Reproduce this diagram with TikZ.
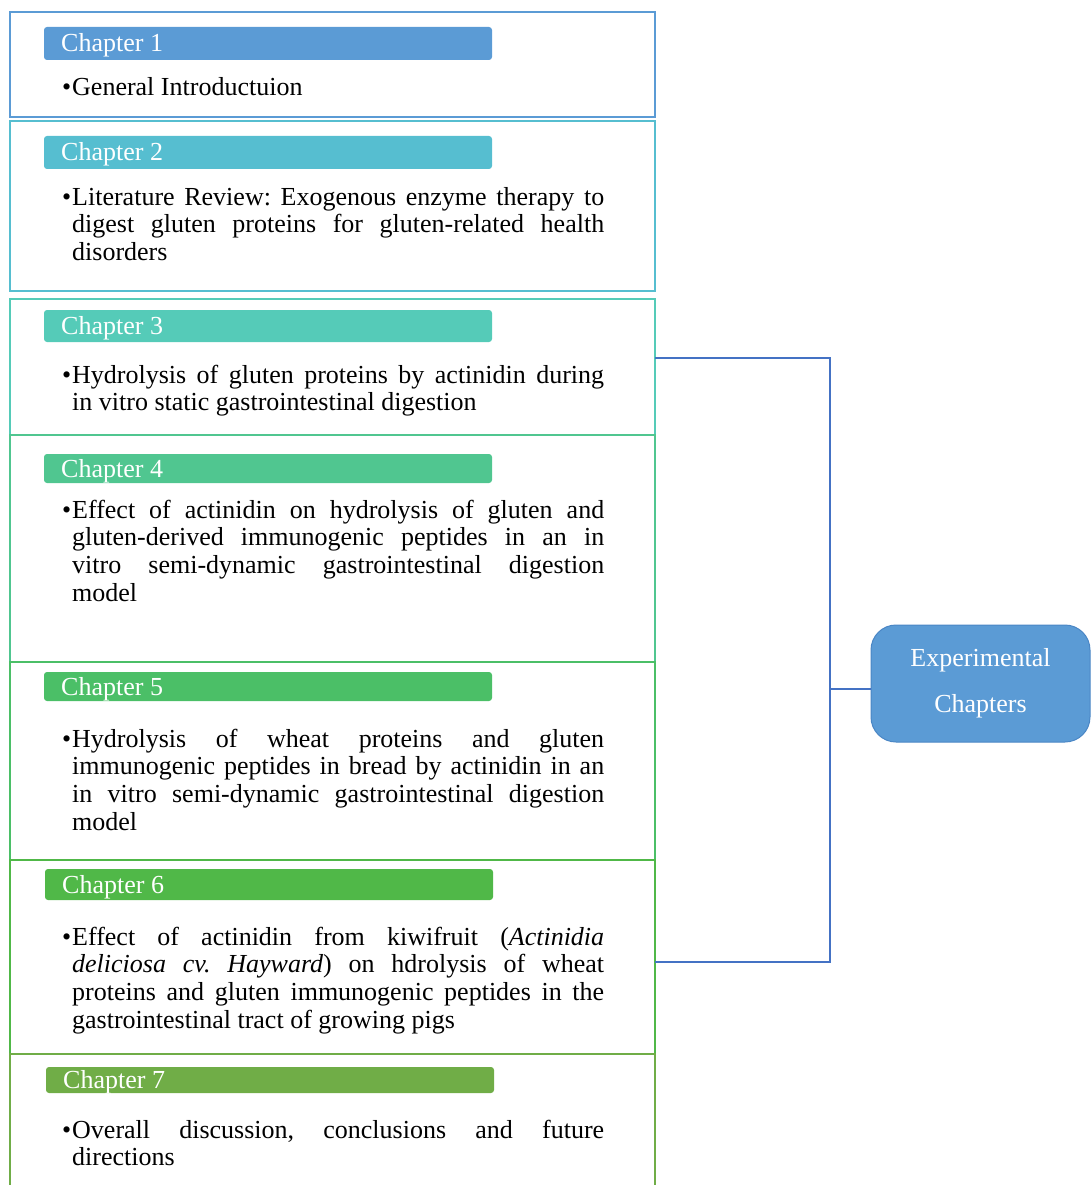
\documentclass[tikz,border=0pt]{standalone}
\usepackage{fontspec}
\setmainfont{Liberation Serif}
\hyphenpenalty=10000
\exhyphenpenalty=10000
\emergencystretch=20pt
\frenchspacing
\definecolor{c1}{HTML}{5B9BD5}
\definecolor{c2}{HTML}{56BED0}
\definecolor{c3}{HTML}{55CBB8}
\definecolor{c4}{HTML}{50C690}
\definecolor{c5}{HTML}{4BBF67}
\definecolor{c6}{HTML}{50B848}
\definecolor{c7}{HTML}{70AD47}
\definecolor{linkblue}{HTML}{4472C4}
\definecolor{expedge}{HTML}{4A86C5}
\tikzset{
  chbox/.style={draw, line width=2.7pt, minimum width=645pt, inner sep=0pt, outer sep=0pt, anchor=north west},
  chbar/.style={rounded corners=3pt, minimum width=448pt, inner sep=0pt, outer sep=0pt, anchor=north west},
  chtitle/.style={text=white, inner sep=0pt, anchor=base west, font=\fontsize{26}{28}\selectfont},
  chbody/.style={text width=532pt, inner sep=0pt, anchor=base west, align=justify,
    font=\fontsize{26}{27.7}\selectfont},
  link/.style={draw=linkblue, line width=1.4pt},
}
\newcommand{\chbullet}{\llap{\textbullet\kern1pt}}
\begin{document}
\begin{tikzpicture}[x=1pt, y=-1pt]
\useasboundingbox (0,0) rectangle (1091,1185);
\clip (0,0) rectangle (1091,1185);

% chapter frames
\node[chbox, draw=c1, minimum height=105pt] (b1) at (10,12) {};
\node[chbox, draw=c2, minimum height=170pt] (b2) at (10,121) {};
\node[chbox, draw=c3, minimum height=136pt] (b3) at (10,299) {};
\node[chbox, draw=c4, minimum height=227pt] (b4) at (10,435) {};
\node[chbox, draw=c5, minimum height=198pt] (b5) at (10,662) {};
\node[chbox, draw=c6, minimum height=194pt] (b6) at (10,860) {};
\node[chbox, draw=c7, minimum height=160pt] (b7) at (10,1054) {};

% title bars
\node[chbar, fill=c1, minimum height=33pt] (t1) at (44,27) {};
\node[chbar, fill=c2, minimum height=33pt] (t2) at (44,136) {};
\node[chbar, fill=c3, minimum height=32pt] (t3) at (44,310) {};
\node[chbar, fill=c4, minimum height=29pt] (t4) at (44,454) {};
\node[chbar, fill=c5, minimum height=29pt] (t5) at (44,672) {};
\node[chbar, fill=c6, minimum height=31pt] (t6) at (45,869) {};
\node[chbar, fill=c7, minimum height=26pt] (t7) at (46,1067) {};

\node[chtitle] (l1) at (61,52) {Chapter 1};
\node[chtitle] (l2) at (61,161) {Chapter 2};
\node[chtitle] (l3) at (61,334) {Chapter 3};
\node[chtitle] (l4) at (61,477) {Chapter 4};
\node[chtitle] (l5) at (61,695) {Chapter 5};
\node[chtitle] (l6) at (62,893) {Chapter 6};
\node[chtitle] (l7) at (63,1088) {Chapter 7};

% chapter contents
\node[chbody] (d1) at (72,96) {\chbullet General Introductuion};
\node[chbody] (d2) at (72,205) {\chbullet Literature Review: Exogenous enzyme therapy to\linebreak
  digest gluten proteins for gluten-related health\linebreak disorders};
\node[chbody] (d3) at (72,383) {\chbullet Hydrolysis of gluten proteins by actinidin during\linebreak
  in vitro static gastrointestinal digestion};
\node[chbody] (d4) at (72,518) {\chbullet Effect of actinidin on hydrolysis of gluten and\linebreak
  gluten-derived immunogenic peptides in an in\linebreak
  vitro semi-dynamic gastrointestinal digestion\linebreak model};
\node[chbody] (d5) at (72,747) {\chbullet Hydrolysis of wheat proteins and gluten\linebreak
  immunogenic peptides in bread by actinidin in an\linebreak
  in vitro semi-dynamic gastrointestinal digestion\linebreak model};
\node[chbody] (d6) at (72,945) {\chbullet Effect of actinidin from kiwifruit (\textit{Actinidia}\linebreak
  \textit{deliciosa cv. Hayward}) on hdrolysis of wheat\linebreak
  proteins and gluten immunogenic peptides in the\linebreak
  gastrointestinal tract of growing pigs};
\node[chbody] (d7) at (72,1138) {\chbullet Overall discussion, conclusions and future\linebreak directions};

% experimental chapters group
\node[draw=expedge, fill=c1, line width=1pt, rounded corners=25pt, minimum width=219pt,
  minimum height=117pt, inner sep=0pt, text=white, align=center,
  font=\fontsize{26}{46}\selectfont] (exp) at (980.5,683.5) {Experimental\\Chapters};

\coordinate (jt) at (830,358);
\coordinate (jb) at (830,962);
\coordinate (jm) at (830,689);
\draw[link] (jt -| b3.east) -- (jt) -- (jb) -- (jb -| b6.east);
\draw[link] (jm) -- (jm -| exp.west);
\end{tikzpicture}
\end{document}
